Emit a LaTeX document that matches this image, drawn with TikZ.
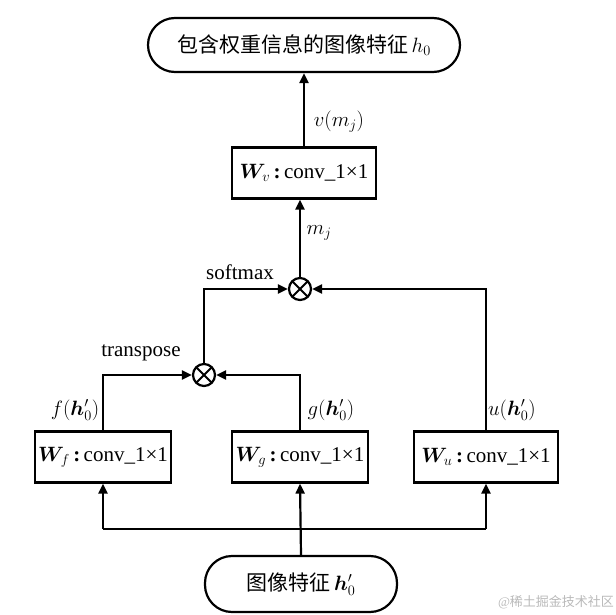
\documentclass[tikz,border=0pt]{standalone}
\usepackage{bm}
\usepackage{fontspec}
\setmainfont{Liberation Serif}
\newfontfamily\cjk{Noto Sans CJK SC}
\usetikzlibrary{arrows.meta}
\tikzset{
  line/.style={line width=2.2pt},
  arr/.style={line width=2.2pt,-{Triangle[length=10pt,width=9pt]}},
  pill/.style={draw,line width=2.2pt,rounded corners=27pt,inner sep=0pt,font=\fontsize{21}{25}\selectfont},
  convbox/.style={draw,line width=2.2pt,inner sep=0pt,minimum height=51pt,font=\fontsize{21}{25}\selectfont},
  mult/.style={draw,circle,line width=2.2pt,minimum size=22pt,inner sep=0pt,
    path picture={\draw[line width=2pt] (path picture bounding box.north west)--(path picture bounding box.south east)
      (path picture bounding box.north east)--(path picture bounding box.south west);}},
  lab/.style={font=\fontsize{21}{25}\selectfont,inner sep=0pt}
}
\begin{document}
\begin{tikzpicture}[x=1pt,y=-1pt]
\useasboundingbox (0,0) rectangle (616,615);
\node[pill,minimum width=312pt,minimum height=54pt] (top) at (304,45) {{\cjk 包含权重信息的图像特征}\,$h_0$};
\node[convbox,minimum width=144pt] (wv) at (304,173) {$\bm{W}_{v}$\,\textbf{:}\,conv\_1×1};
\node[mult] (ot2) at (300,289) {};
\node[mult] (ot1) at (204,375) {};
\node[convbox,minimum width=136pt] (wf) at (103,457) {$\bm{W}_{f}$\,\textbf{:}\,conv\_1×1};
\node[convbox,minimum width=136pt] (wg) at (300,457) {$\bm{W}_{g}$\,\textbf{:}\,conv\_1×1};
\node[convbox,minimum width=144pt] (wu) at (486,457) {$\bm{W}_{u}$\,\textbf{:}\,conv\_1×1};
\node[pill,minimum width=192pt,minimum height=56pt] (bot) at (301,584) {{\cjk 图像特征}\,$\bm{h}_0^{\prime}$};
\coordinate (j) at (300,529);

\draw[arr] (wv.north) -- (top.south);
\draw[arr] (ot2.north) -- (ot2.north |- wv.south);
\draw[arr] (ot1.north) |- (ot2.west);
\draw[arr] (wu.north) |- (ot2.east);
\draw[arr] (wf.north) |- (ot1.west);
\draw[arr] (wg.north) |- (ot1.east);
\draw[arr] (bot.north) -- (wg.south);
\draw[line] (wf.south |- j) -- (wu.south |- j);
\draw[arr] (wf.south |- j) -- (wf.south);
\draw[arr] (wu.south |- j) -- (wu.south);

\node[lab] (lv) at (339,122) {$v(m_j)$};
\node[lab] (lm) at (319,233) {$m_j$};
\node[lab] (ls) at (240,272) {softmax};
\node[lab] (lt) at (141,353) {transpose};
\node[lab] (lf) at (75,410) {$f(\bm{h}_0^{\prime})$};
\node[lab] (lg) at (331,410) {$g(\bm{h}_0^{\prime})$};
\node[lab] (lu) at (512,410) {$u(\bm{h}_0^{\prime})$};
\node[font=\fontsize{13}{15}\selectfont,text=gray!55,inner sep=0pt] (wm) at (556,602) {@{\cjk 稀土掘金技术社区}};
\end{tikzpicture}
\end{document}
